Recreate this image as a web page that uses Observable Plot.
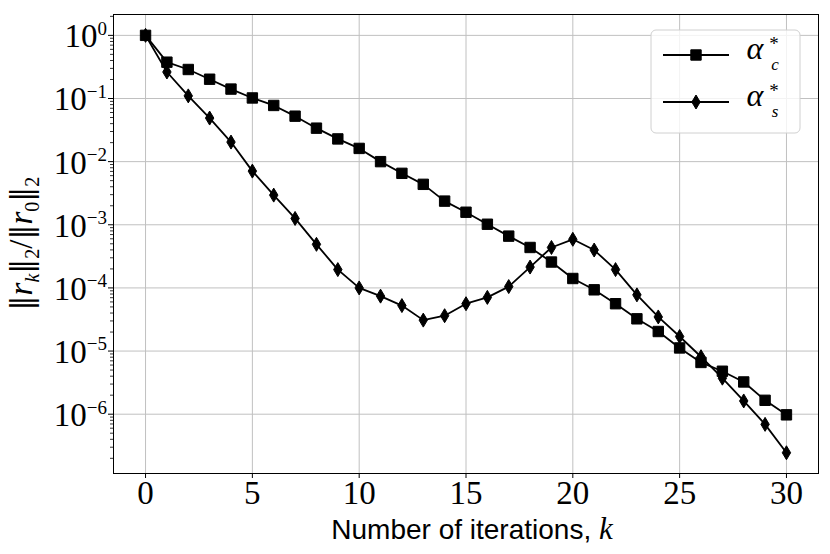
<!DOCTYPE html>
<html><head><meta charset="utf-8">
<script src="https://cdn.jsdelivr.net/npm/d3@7"></script>
<script src="https://cdn.jsdelivr.net/npm/@observablehq/plot@0.6"></script>
<style>
body{margin:0;background:#fff;}
#chart{width:830px;height:554px;}
</style></head><body><div id="chart"></div>
<script>
// ---- data ----
const iterations = [0,1,2,3,4,5,6,7,8,9,10,11,12,13,14,15,16,17,18,19,20,21,22,23,24,25,26,27,28,29,30];
const alphaC = [1, 0.376, 0.288, 0.202, 0.141, 0.102, 0.0776, 0.0525, 0.0339, 0.0229, 0.0162, 0.0100,
  0.00653, 0.00437, 0.00237, 0.00158, 0.00102, 0.000661, 0.000437, 0.000257, 0.000141, 0.0000933,
  0.0000562, 0.0000324, 0.0000204, 0.0000112, 0.0000066, 0.00000479, 0.00000324, 0.00000166, 0.000000977];
const alphaS = [1, 0.263, 0.110, 0.049, 0.0204, 0.00708, 0.00295, 0.00126, 0.00049, 0.000195, 0.0001,
  0.0000741, 0.0000525, 0.0000309, 0.0000363, 0.0000562, 0.0000708, 0.000105, 0.000214, 0.000437,
  0.000589, 0.000398, 0.000195, 0.0000776, 0.0000347, 0.0000170, 0.00000813, 0.00000372, 0.00000162,
  0.00000069, 0.000000245];
const xTicks = [0, 5, 10, 15, 20, 25, 30];
const yTicks = [1, 1e-1, 1e-2, 1e-3, 1e-4, 1e-5, 1e-6];
const yTickBase = "10";
const yTickExponents = ["0", "\u22121", "\u22122", "\u22123", "\u22124", "\u22125", "\u22126"];
const xLabelText = "Number of iterations, ";
const xLabelVar = "k";
const legendSubs = ["c", "s"];

// minor log ticks (axis decoration)
const yDomain = [1.15e-7, 2.14];
const minorTicks = [];
for (let e = -7; e <= 0; e++) for (let m = 2; m <= 9; m++) {
  const v = m * Math.pow(10, e);
  if (v >= yDomain[0] && v <= yDomain[1]) minorTicks.push(v);
}

const rows = iterations.map((k, i) => ({k, c: alphaC[i], s: alphaS[i]}));

const squareSym = {draw(ctx, size) {
  const r = Math.sqrt(size / Math.PI);
  ctx.moveTo(-r, -r); ctx.lineTo(r, -r); ctx.lineTo(r, r); ctx.lineTo(-r, r); ctx.closePath();
}};
const thinDiamond = {draw(ctx, size) {
  const r = Math.sqrt(size / Math.PI), w = r * 0.6;
  ctx.moveTo(0, -r); ctx.lineTo(w, 0); ctx.lineTo(0, r); ctx.lineTo(-w, 0); ctx.closePath();
}};

const SERIF = "'Liberation Serif', 'DejaVu Serif', serif";
const gridStyle = {stroke: "#c0c0c0", strokeOpacity: 1, strokeWidth: 1};

const plot = Plot.plot({
  width: 830, height: 554,
  marginLeft: 113, marginRight: 12, marginTop: 14, marginBottom: 81,
  x: {domain: [-1.5, 31.5]},
  y: {type: "log", domain: yDomain},
  style: {fontFamily: SERIF, background: "white", color: "black"},
  marks: [
    Plot.gridX(xTicks, gridStyle),
    Plot.gridY(yTicks, gridStyle),
    Plot.axisX(xTicks, {tickSize: 5, tickPadding: 2, fontSize: 33, fontFamily: SERIF, label: null, tickFormat: d => String(d)}),
    Plot.axisY(yTicks, {tickSize: 5, fill: "none", label: null}),
    Plot.axisY(minorTicks, {tickSize: 3, fill: "none", label: null, strokeWidth: 0.8}),
    Plot.frame({stroke: "black", strokeWidth: 1}),
    Plot.line(rows, {x: "k", y: "c", stroke: "black", strokeWidth: 1.8}),
    Plot.dot(rows, {x: "k", y: "c", symbol: squareSym, r: 5.2, fill: "black", stroke: "black", strokeWidth: 1}),
    Plot.line(rows, {x: "k", y: "s", stroke: "black", strokeWidth: 1.8}),
    Plot.dot(rows, {x: "k", y: "s", symbol: thinDiamond, r: 7, fill: "black", stroke: "black", strokeWidth: 1})
  ]
});

document.getElementById("chart").appendChild(plot);

const svg = d3.select(plot);
const ys = plot.scale("y");

// y tick labels with superscripts
yTicks.forEach((v, i) => {
  const py = ys.apply(v);
  const t = svg.append("text")
    .attr("x", 107).attr("y", py + 12.4)
    .attr("text-anchor", "end")
    .attr("font-family", SERIF).attr("font-size", 33).attr("fill", "black");
  t.append("tspan").text(yTickBase);
  t.append("tspan").attr("font-size", 19).attr("dy", -12.5).text(yTickExponents[i]);
});

// x axis title
const xl = svg.append("text")
  .attr("x", 472).attr("y", 539).attr("text-anchor", "middle")
  .attr("font-family", "'Liberation Sans', Arial, sans-serif").attr("font-size", 28).attr("fill", "black");
xl.append("tspan").text(xLabelText);
xl.append("tspan").attr("font-family", SERIF).attr("font-style", "italic").attr("font-size", 31).text(xLabelVar);

// y axis title  ||r_k||_2 / ||r_0||_2
const yl = svg.append("text")
  .attr("transform", "translate(32,243.5) rotate(-90)")
  .attr("text-anchor", "middle")
  .attr("font-family", SERIF).attr("font-size", 33).attr("fill", "black");
const parts = [
  ["\u2016", 0, "bar"], ["r", 0, "italic"], ["k", 1, "italic"], ["\u2016", -1, "bar"], ["2", 1, null],
  ["/", -1, null], ["\u2016", 0, "bar"], ["r", 0, "italic"], ["0", 1, null], ["\u2016", -1, "bar"], ["2", 1, null]
];
parts.forEach(([s, shift, style]) => {
  const sp = yl.append("tspan").text(s);
  if (shift !== 0) sp.attr("dy", shift * 7);
  if (shift === 1) sp.attr("font-size", 20);
  if (style === "italic") sp.attr("font-style", "italic");
  if (style === "bar") sp.attr("font-family", "'DejaVu Serif', serif").attr("font-size", 30);
});

// legend
const lg = svg.append("g");
lg.append("rect").attr("x", 651).attr("y", 30).attr("width", 149).attr("height", 103).attr("rx", 5)
  .attr("fill", "white").attr("fill-opacity", 0.8).attr("stroke", "#d0d0d0").attr("stroke-width", 1);
const legendY = [55, 102];
const legendSym = [squareSym, thinDiamond];
const legendR = [5.2, 7];
legendY.forEach((yy, i) => {
  lg.append("line").attr("x1", 663).attr("x2", 729).attr("y1", yy).attr("y2", yy)
    .attr("stroke", "black").attr("stroke-width", 1.8);
  lg.append("path").attr("transform", `translate(696,${yy})`)
    .attr("d", d3.symbol(legendSym[i], legendR[i] * legendR[i] * Math.PI)())
    .attr("fill", "black").attr("stroke", "black").attr("stroke-width", 1);
  lg.append("text").attr("x", 755).attr("y", yy + 3.5).attr("font-family", SERIF)
    .attr("font-style", "italic").attr("font-size", 32).attr("fill", "black").text("\u03B1");
  lg.append("text").attr("x", 774).attr("y", yy - 5).attr("font-family", SERIF)
    .attr("font-size", 19).attr("fill", "black").text("*");
  lg.append("text").attr("x", 775).attr("y", yy + 15).attr("font-family", SERIF)
    .attr("font-style", "italic").attr("font-size", 17).attr("fill", "black").text(legendSubs[i]);
});
</script></body></html>
